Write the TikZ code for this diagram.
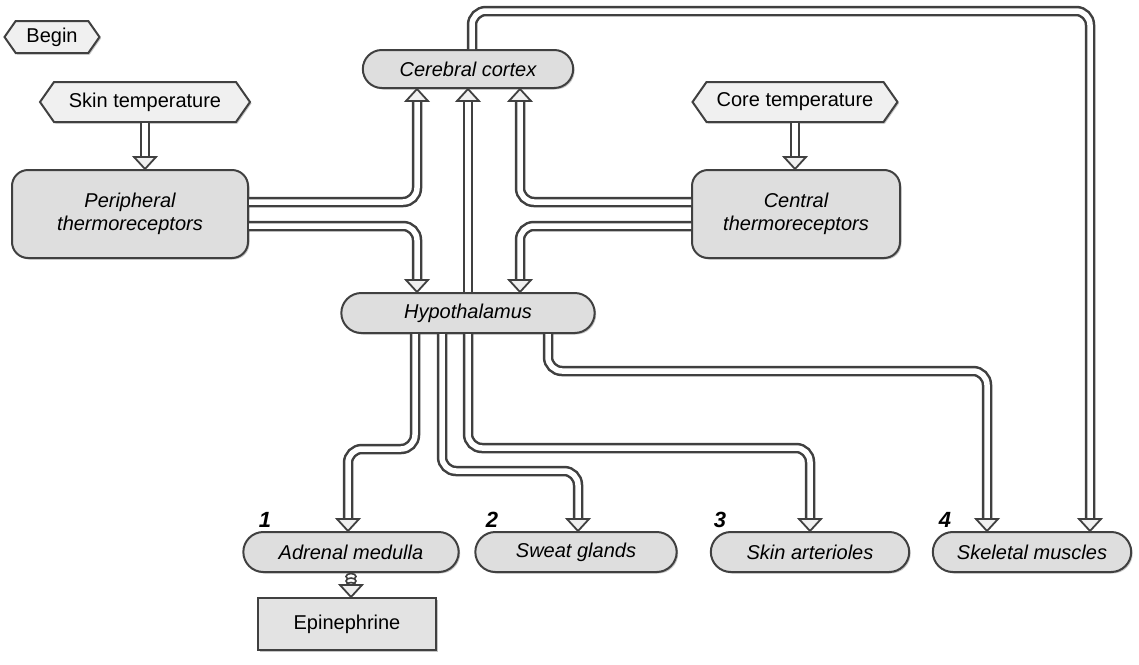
\documentclass[tikz,border=0pt]{standalone}
\usepackage{fontspec}
\setmainfont{Liberation Sans}
\usetikzlibrary{shapes.symbols,shapes.misc,decorations.markings,shadows}

\begin{document}
\begin{tikzpicture}[x=1pt,y=-1pt,
  font=\fontsize{20}{23}\selectfont,
  my head/.style={draw=black!75, line width=1.8pt, fill=black!6,
    shorten >=0pt, sharp corners, line join=miter},
  my tip/.style={
    postaction={decorate, decoration={markings, mark=at position 1 with {
      \draw[my head] (0pt,0pt) -- (-12pt,11pt) -- (-12pt,-11pt) -- cycle;}}}},
  my pipe/.style={
    preaction={draw=black!75, line width=10.5pt, shorten >=11pt},
    draw=white, line width=5.5pt, shorten >=10pt,
    rounded corners=14pt, my tip,
  },
  my loop/.style={draw=black!75, line width=1.6pt, fill=white},
  my box/.style={
    draw=black!75, line width=2pt, fill=black!13,
    drop shadow={shadow xshift=1.5pt,shadow yshift=-1.5pt,fill=black!45},
  },
  my pill/.style={my box, rounded rectangle, minimum height=40pt, font=\fontsize{20}{23}\itshape},
  my sign/.style={my box, fill=black!6, signal, signal to=west and east,
    signal pointer angle=110, minimum height=40pt},
  my number/.style={font=\fontsize{22}{24}\bfseries\itshape},
  ]
  \useasboundingbox (0,0) rectangle (1139,664);

  % inputs
  \node[my sign, minimum height=32pt, minimum width=95pt] (begin) at (52,37) {Begin};
  \node[my sign, minimum width=210pt] (skin) at (145,102) {Skin temperature};
  \node[my sign, minimum width=205pt] (core) at (795,102) {Core temperature};

  % receptors and centres
  \node[my box, rounded corners=16pt, minimum width=236pt, minimum height=88pt,
    align=center, font=\fontsize{20}{23}\itshape] (periph) at (130,214) {Peripheral\\thermoreceptors};
  \node[my box, rounded corners=16pt, minimum width=208pt, minimum height=88pt,
    align=center, font=\fontsize{20}{23}\itshape] (central) at (796,214) {Central\\thermoreceptors};
  \node[my pill, minimum width=217pt, minimum height=38pt] (cortex) at (468,69) {Cerebral cortex};
  \node[my pill, minimum width=260pt] (hypo) at (468,313) {Hypothalamus};

  % effectors
  \node[my pill, minimum width=222pt] (adrenal) at (351,552) {Adrenal medulla};
  \node[my pill, minimum width=208pt] (sweat) at (576,552) {Sweat glands};
  \node[my pill, minimum width=205pt] (arter) at (810,552) {Skin arterioles};
  \node[my pill, minimum width=205pt] (skel) at (1032,552) {Skeletal muscles};
  \node[my box, fill=black!11, minimum width=178pt, minimum height=52pt] (epi) at (347,624) {Epinephrine};

  \node[my number] (n1) at (265,520) {1};
  \node[my number] (n2) at (492,520) {2};
  \node[my number] (n3) at (720,520) {3};
  \node[my number] (n4) at (945,520) {4};

  % pipes
  \draw[my pipe] (skin.south) -- (skin.south |- periph.north);
  \draw[my pipe] (core.south) -- (core.south |- central.north);
  \draw[my pipe] ([yshift=12pt]periph.east) -| ([xshift=-51pt]cortex.south);
  \draw[my pipe] ([yshift=-12pt]periph.east) -| ([xshift=-51pt]hypo.north);
  \draw[my pipe] ([yshift=12pt]central.west) -| ([xshift=52pt]cortex.south);
  \draw[my pipe] ([yshift=-12pt]central.west) -| ([xshift=52pt]hypo.north);
  \draw[my pipe] (hypo.north) -- (cortex.south);
  \draw[my pipe] ([xshift=4pt]cortex.north) -- ++(0,-38) -| ([xshift=58pt]skel.north);
  \draw[my pipe] ([xshift=-53pt]hypo.south) -- ++(0,115) -| ([xshift=-3pt]adrenal.north);
  \draw[my pipe] ([xshift=-26pt]hypo.south) -- ++(0,137) -| ([xshift=2pt]sweat.north);
  \draw[my pipe] (hypo.south) -- ++(0,114) -| (arter.north);
  \draw[my pipe] ([xshift=80pt]hypo.south) -- ++(0,37) -| ([xshift=-45pt]skel.north);

  % adrenal -> epinephrine (chain of loops)
  \foreach \k in {0,1,2}
    \draw[my loop] ([yshift=-3.5pt-4.5*\k pt]adrenal.south) circle[x radius=5pt, y radius=3pt];
  \path[my tip] (adrenal.south) -- (adrenal.south |- epi.north);
\end{tikzpicture}
\end{document}
